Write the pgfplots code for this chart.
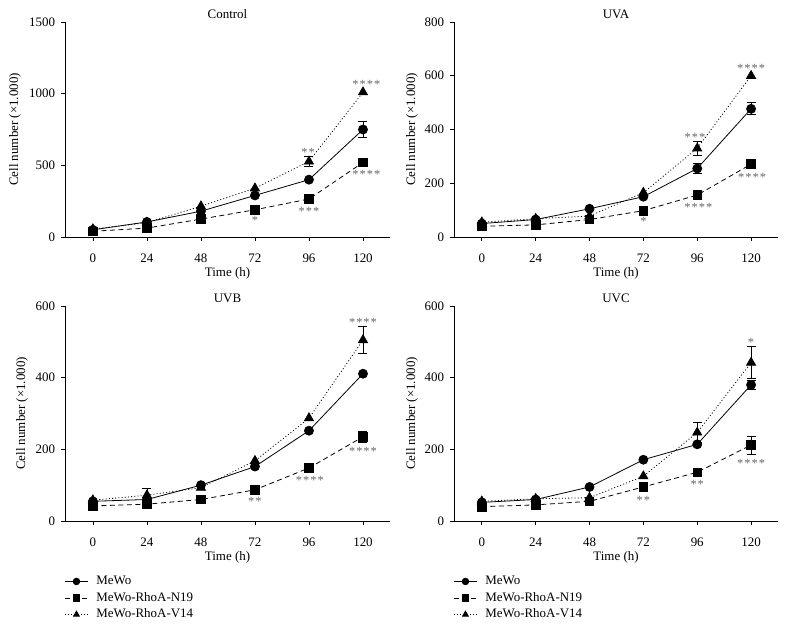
\documentclass[border=0pt]{standalone}
\usepackage{fontspec}
\setmainfont{Liberation Serif}
\usepackage{pgfplots}
\pgfplotsset{compat=1.18}
\newcommand{\fs}{\fontsize{13}{15}\selectfont}
\tikzset{ann/.style={text=black!60, font=\fontsize{12.5}{14}\selectfont, inner sep=0pt, yshift=-2bp}}
\pgfplotsset{
 panel/.style={
  scale only axis, width=325bp, height=215bp,
  axis lines*=left,
  axis line style={line width=0.8bp, black},
  xmin=-12.4, xmax=132, ymin=0,
  xtick={0,24,48,72,96,120},
  tick align=outside, major tick length=4bp,
  every tick/.style={line width=0.8bp, black},
  font=\fs,
  tick label style={font=\fs},
  /pgf/number format/assume math mode=true,
  /pgf/number format/1000 sep={},
  xticklabel style={yshift=-9bp},
  yticklabel style={xshift=-2.5bp},
  xlabel={Time (h)},
  ylabel={Cell number (×1.000)},
  xlabel style={at={(axis description cs:0.5,-0.1674)}, anchor=center, font=\fs},
  ylabel style={anchor=center, font=\fs},
  title style={at={(axis description cs:0.5,1)}, anchor=center, yshift=2bp, font=\fs},
  clip=false,
  legend image code/.code={\draw[mark repeat=2,mark phase=2,##1] plot coordinates {(0bp,0bp) (11.5bp,0bp) (23bp,0bp)};},
  legend image post style={mark size=3.3bp},
  legend style={at={(axis description cs:-0.002,-0.242)}, anchor=north west, draw=none, fill=none, inner sep=0pt, column sep=6.5bp, row sep=0pt, nodes={inner sep=1.5bp, text height=10bp, text depth=3.5bp, font=\fs}},
  legend cell align=left,
 },
 mewo/.style={black, solid, line width=0.8bp, mark=*, mark size=4.5bp, mark options={solid}},
 n19/.style={black, dash pattern=on 5bp off 3.5bp, line width=0.8bp, mark=square*, mark size=4.3bp, mark options={solid}},
 v14/.style={black, dash pattern=on 1bp off 2.2bp, line width=0.8bp, mark=triangle*, mark size=5.2bp, mark options={solid}},
 eb/.style={forget plot, black, line width=0.8bp, only marks, mark=none,
   error bars/.cd, y dir=both, y explicit,
   error bar style={line width=0.8bp, solid},
   error mark options={rotate=90, mark size=4.5bp, line width=0.8bp, solid}},
}
\newcommand{\st}[1]{%
 \ifcase#1\or *\or *\kern1bp*\or *\kern1bp*\kern1bp*\or *\kern1bp*\kern1bp*\kern1bp*\fi}
\begin{document}
\begin{tikzpicture}
\useasboundingbox (0,0) rectangle (787bp,626bp);
% ---------------- Control
\begin{axis}[panel, at={(65bp,389bp)}, anchor=south west,
  ymax=1500, ytick={0,500,1000,1500}, title={Control},
  ylabel style={at={(axis description cs:-0.154,0.5)}}]
\addplot[eb] coordinates {(120,750) +- (0,56) (96,527) +- (0,35)};
\addplot[mewo] coordinates {(0,50) (24,105) (48,180) (72,290) (96,400) (120,750)};
\addplot[n19] coordinates {(0,40) (24,62) (48,125) (72,190) (96,265) (120,520)};
\addplot[v14] coordinates {(0,55) (24,100) (48,215) (72,340) (96,527) (120,1010)};
\node[ann] at (axis cs:121.5,1077) {\st4};
\node[ann] at (axis cs:95.6,604) {\st2};
\node[ann] at (axis cs:121.5,450) {\st4};
\node[ann] at (axis cs:96,195) {\st3};
\node[ann] at (axis cs:72,128) {\st1};
\end{axis}
% ---------------- UVA
\begin{axis}[panel, at={(454bp,389bp)}, anchor=south west, width=324bp,
  ymax=800, ytick={0,200,400,600,800}, title={UVA},
  ylabel style={at={(axis description cs:-0.1296,0.5)}}]
\addplot[eb] coordinates {(96,255) +- (0,20) (120,477) +- (0,22) (120,271) +- (0,15) (96,330) +- (0,25)};
\addplot[mewo] coordinates {(0,50) (24,65) (48,105) (72,150) (96,255) (120,477)};
\addplot[n19] coordinates {(0,40) (24,45) (48,65) (72,98) (96,156) (120,271)};
\addplot[v14] coordinates {(0,55) (24,68) (48,78) (72,165) (96,330) (120,600)};
\node[ann] at (axis cs:120,636) {\st4};
\node[ann] at (axis cs:95,378) {\st3};
\node[ann] at (axis cs:120.5,230) {\st4};
\node[ann] at (axis cs:96.5,119) {\st4};
\node[ann] at (axis cs:72,64) {\st1};
\end{axis}
% ---------------- UVB
\begin{axis}[panel, at={(65bp,105bp)}, anchor=south west,
  ymax=600, ytick={0,200,400,600}, title={UVB},
  ylabel style={at={(axis description cs:-0.132,0.5)}}]
\addplot[eb] coordinates {(120,235) +- (0,15) (24,72) +- (0,18) (120,505) +- (0,37)};
\addplot[mewo] coordinates {(0,55) (24,60) (48,100) (72,152) (96,252) (120,411)};
\addplot[n19] coordinates {(0,42) (24,47) (48,60) (72,87) (96,148) (120,235)};
\addplot[v14] coordinates {(0,58) (24,72) (48,93) (72,168) (96,287) (120,505)};
\legend{MeWo, MeWo-RhoA-N19, MeWo-RhoA-V14}
\node[ann] at (axis cs:120,560) {\st4};
\node[ann] at (axis cs:120,200) {\st4};
\node[ann] at (axis cs:96.4,120) {\st4};
\node[ann] at (axis cs:72,60) {\st2};
\end{axis}
% ---------------- UVC
\begin{axis}[panel, at={(454bp,105bp)}, anchor=south west, width=324bp,
  ymax=600, ytick={0,200,400,600}, title={UVC},
  ylabel style={at={(axis description cs:-0.1296,0.5)}}]
\addplot[eb] coordinates {(120,380) +- (0,12) (120,212) +- (0,25) (96,247) +- (0,28) (120,442) +- (0,45)};
\addplot[mewo] coordinates {(0,52) (24,60) (48,95) (72,171) (96,214) (120,380)};
\addplot[n19] coordinates {(0,40) (24,45) (48,55) (72,95) (96,136) (120,212)};
\addplot[v14] coordinates {(0,55) (24,62) (48,65) (72,125) (96,247) (120,442)};
\legend{MeWo, MeWo-RhoA-N19, MeWo-RhoA-V14}
\node[ann] at (axis cs:120,505) {\st1};
\node[ann] at (axis cs:120,166) {\st4};
\node[ann] at (axis cs:96,109) {\st2};
\node[ann] at (axis cs:72,62) {\st2};
\end{axis}
\end{tikzpicture}
\end{document}
